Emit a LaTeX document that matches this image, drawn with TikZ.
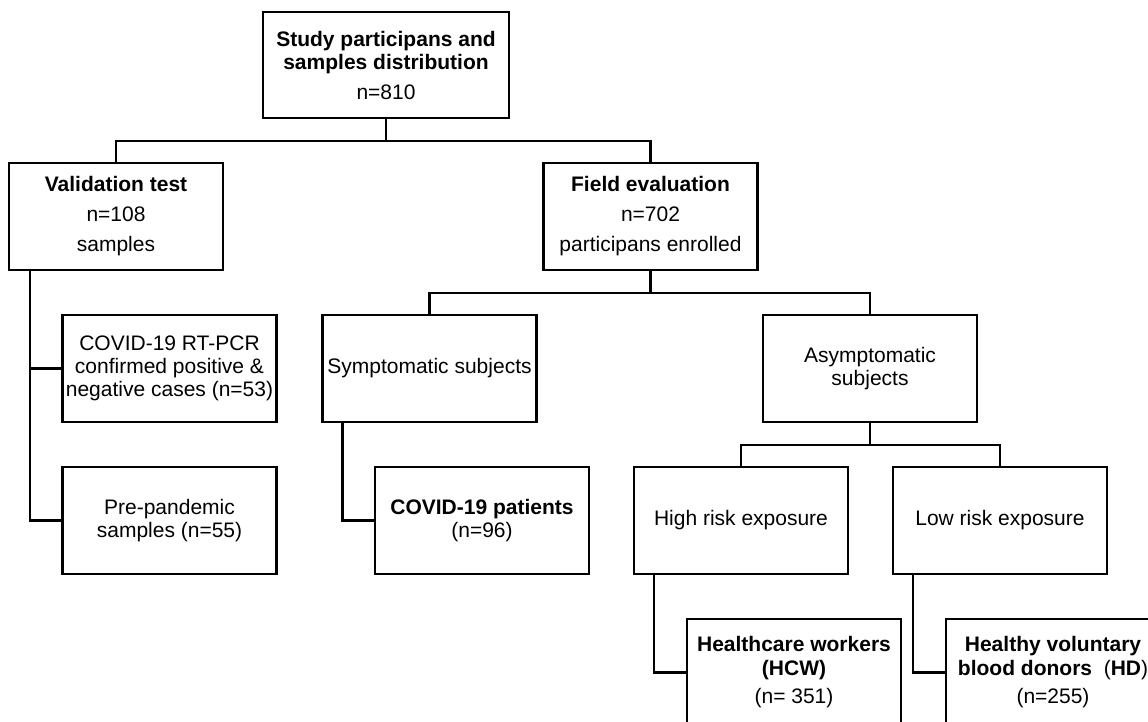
\documentclass[tikz,border=0pt]{standalone}
\usepackage{fontspec}
\setmainfont{Liberation Sans}
\usetikzlibrary{calc}
\begin{document}
\begin{tikzpicture}[x=1pt,y=-1pt,
  box/.style={draw, line width=2.2pt, minimum width=214pt, minimum height=107pt,
    inner sep=2pt, align=center, font=\fontsize{21}{23}\selectfont},
  conn/.style={line width=2.2pt}]
\fill[white] (0,0) rectangle (1148,721);
\useasboundingbox (0,0) rectangle (1148,721);
\clip (0,0) rectangle (1148,721);

\node[box, minimum width=246pt, minimum height=106pt] (top) at (386,65)
  {\textbf{Study participans and}\\\textbf{samples distribution}\\[7pt]n=810};
\node[box] (val) at (116,216.5) {\textbf{Validation test}\\[7pt]n=108\\[7pt]samples};
\node[box] (field) at (650.5,216.5) {\textbf{Field evaluation}\\[7pt]n=702\\[7pt]participans enrolled};
\node[box] (rtpcr) at (169.5,368.5) {COVID-19 RT-PCR\\confirmed positive \&\\negative cases (n=53)};
\node[box] (prepan) at (169.5,520.5) {Pre-pandemic\\samples (n=55)};
\node[box] (symp) at (429.5,368.5) {Symptomatic subjects};
\node[box] (asym) at (870,368.5) {Asymptomatic\\subjects};
\node[box] (covpat) at (482,520.5) {\textbf{COVID-19 patients}\\(n=96)};
\node[box] (high) at (741,520.5) {High risk exposure};
\node[box] (low) at (1000,520.5) {Low risk exposure};
\node[box] (hcw) at (794,672.5) {\textbf{Healthcare workers}\\[1pt]\textbf{(HCW)}\\[5pt](n= 351)};
\node[box] (hd) at (1053,672.5) {\textbf{Healthy voluntary}\\[1pt]\textbf{blood donors}\ \ (\textbf{HD})\\[5pt](n=255)};

\coordinate (j1) at (386,141);
\coordinate (j2) at (650.5,293);
\coordinate (j3) at (870,445);

\draw[conn] (top.south) -- (j1);
\draw[conn] (val.north) |- (j1) -| (field.north);
\draw[conn] (field.south) -- (j2);
\draw[conn] (symp.north) |- (j2) -| (asym.north);
\draw[conn] (asym.south) -- (j3);
\draw[conn] (high.north) |- (j3) -| (low.north);

\draw[conn] ([xshift=22pt]val.south west) |- (rtpcr.west);
\draw[conn] ([xshift=22pt]val.south west) |- (prepan.west);
\draw[conn] ([xshift=21pt]symp.south west) |- (covpat.west);
\draw[conn] ([xshift=21pt]high.south west) |- (hcw.west);
\draw[conn] ([xshift=21pt]low.south west) |- (hd.west);
\end{tikzpicture}
\end{document}
